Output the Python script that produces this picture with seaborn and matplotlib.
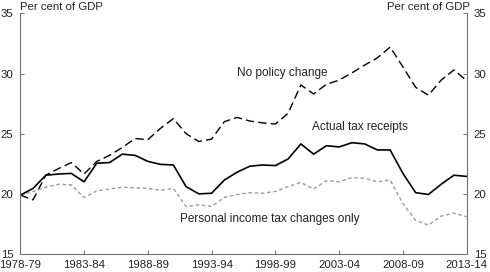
import matplotlib
matplotlib.use("Agg")
import matplotlib.pyplot as plt
import seaborn as sns
import pandas as pd
import numpy as np

years = [f"{y}-{str(y + 1)[-2:]}" for y in range(1978, 2014)]
tick_labels = ["1978-79", "1983-84", "1988-89", "1993-94", "1998-99", "2003-04", "2008-09", "2013-14"]

actual = [19.9, 20.45, 21.55, 21.65, 21.7, 21.0, 22.55, 22.6, 23.3, 23.2,
          22.7, 22.45, 22.4, 20.6, 20.0, 20.05, 21.15, 21.8, 22.3, 22.4,
          22.35, 22.9, 24.15, 23.3, 24.0, 23.9, 24.25, 24.15, 23.65, 23.65,
          21.7, 20.1, 19.95, 20.8, 21.55, 21.45]
no_policy = [19.9, 19.5, 21.55, 22.1, 22.6, 21.65, 22.7, 23.2, 23.85, 24.6,
             24.5, 25.45, 26.25, 25.0, 24.35, 24.55, 26.0, 26.35, 26.05, 25.9,
             25.8, 26.7, 29.05, 28.3, 29.1, 29.45, 30.05, 30.7, 31.3, 32.2,
             30.55, 28.85, 28.2, 29.45, 30.3, 29.4]
personal = [19.9, 20.2, 20.55, 20.8, 20.75, 19.7, 20.25, 20.4, 20.55, 20.5,
            20.45, 20.3, 20.45, 18.95, 19.1, 18.95, 19.7, 19.95, 20.1, 20.05,
            20.2, 20.6, 20.95, 20.4, 21.1, 21.0, 21.35, 21.3, 21.0, 21.15,
            19.2, 17.8, 17.4, 18.15, 18.4, 18.1]

sns.set_style("white")
plt.rcParams['font.family'] = ['Liberation Sans', 'DejaVu Sans']

df = pd.DataFrame({
    "idx": np.arange(len(years)),
    "year": years,
    "Actual tax receipts": actual,
    "No policy change": no_policy,
    "Personal income tax changes only": personal,
})

fig = plt.figure(figsize=(4.9, 2.72), dpi=100)
ax = fig.add_axes([0.0414, 0.066, 0.9110, 0.885])

sns.lineplot(data=df, x="idx", y="No policy change", ax=ax, color="black",
             linewidth=1.0)
ax.lines[-1].set_dashes([6, 3])
sns.lineplot(data=df, x="idx", y="Personal income tax changes only", ax=ax,
             color="#9a9a9a", linewidth=1.0)
ax.lines[-1].set_dashes([2.5, 2])
sns.lineplot(data=df, x="idx", y="Actual tax receipts", ax=ax, color="black",
             linewidth=1.2)

ax.set_xlim(0, 35)
ax.set_ylim(15, 35)
ax.set_xlabel("")
ax.set_ylabel("")
tick_pos = [years.index(t) for t in tick_labels]
ax.set_xticks(tick_pos)
ax.set_xticklabels(tick_labels)
ax.set_yticks([15, 20, 25, 30, 35])

ax.spines["top"].set_visible(False)
for s in ["left", "right", "bottom"]:
    ax.spines[s].set_visible(True)
    ax.spines[s].set_color("#707070")
    ax.spines[s].set_linewidth(0.8)

ax.tick_params(axis="both", direction="in", length=3, width=0.7, color="#707070",
               labelsize=8.2, labelcolor="#222222")
ax.tick_params(axis="y", left=True, right=True, labelleft=True, labelright=True, pad=5)
ax.tick_params(axis="x", bottom=True, pad=4.5)

ax.text(0.0, 1.005, "Per cent of GDP", transform=ax.transAxes, ha="left", va="bottom",
        fontsize=8.2, color="#222222")
ax.text(1.007, 1.005, "Per cent of GDP", transform=ax.transAxes, ha="right", va="bottom",
        fontsize=8.2, color="#222222")

ax.text(17.0, 30.05, "No policy change", ha="left", va="center", fontsize=8.5, color="#222222")
ax.text(22.9, 25.55, "Actual tax receipts", ha="left", va="center", fontsize=8.5, color="#222222")
ax.text(12.5, 17.9, "Personal income tax changes only", ha="left", va="center", fontsize=8.5, color="#222222")

fig.savefig("out.png", dpi=100)
